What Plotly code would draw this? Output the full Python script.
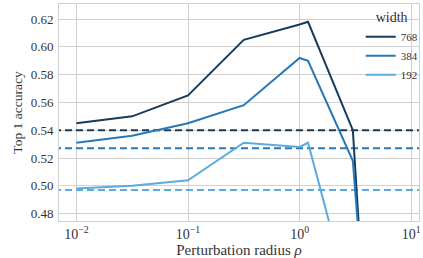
import plotly.graph_objects as go

radius = [0.01, 0.0316, 0.1, 0.316, 1.0, 1.19, 3.0, 4.0]
acc_768 = [0.545, 0.550, 0.565, 0.605, 0.616, 0.618, 0.540, 0.38]
acc_384 = [0.531, 0.536, 0.545, 0.558, 0.592, 0.590, 0.518, 0.39]
acc_192 = [0.498, 0.500, 0.504, 0.531, 0.528, 0.531, 0.41, 0.39]
baseline = {"768": 0.540, "384": 0.527, "192": 0.497}
widths = ["768", "384", "192"]
colors = {"768": "#173b5a", "384": "#2678b6", "192": "#5aabe0"}
series = {"768": acc_768, "384": acc_384, "192": acc_192}

font = "Liberation Serif"
fig = go.Figure()
for w in widths:
    fig.add_trace(go.Scatter(x=[0.004, 20], y=[baseline[w]] * 2, mode="lines",
                             line=dict(color=colors[w], width=2, dash="7px,4px"),
                             showlegend=False, hoverinfo="skip"))
for w in widths:
    fig.add_trace(go.Scatter(x=radius, y=series[w], mode="lines", name=w,
                             line=dict(color=colors[w], width=2)))

fig.update_layout(
    width=423, height=258,
    margin=dict(l=59, r=4, t=4, b=37, autoexpand=False),
    paper_bgcolor="white", plot_bgcolor="white",
    font=dict(family=font, size=12, color="#333"),
    legend=dict(title=dict(text="width", font=dict(size=14), side="top center"),
                x=0.838, xanchor="left", y=1.0, yanchor="top",
                bgcolor="rgba(0,0,0,0)", font=dict(size=11),
                itemwidth=30, tracegroupgap=0),
)
fig.update_xaxes(type="log", range=[-2.156, 1.07],
                 tickvals=[0.01, 0.1, 1, 10],
                 ticktext=["10<sup>−2</sup>", "10<sup>−1</sup>", "10<sup>0</sup>", "10<sup>1</sup>"],
                 showgrid=True, gridcolor="#d0d0d0", gridwidth=1,
                 showline=True, linecolor="#d0d0d0", mirror=True, zeroline=False,
                 title=dict(text="Perturbation radius <i>ρ</i>", font=dict(size=15), standoff=2),
                 ticks="", tickfont=dict(size=14), automargin=False)
fig.update_yaxes(range=[0.4747, 0.6308], tickvals=[0.48, 0.50, 0.52, 0.54, 0.56, 0.58, 0.60, 0.62],
                 tickformat=".2f",
                 showgrid=True, gridcolor="#d0d0d0", gridwidth=1,
                 showline=True, linecolor="#d0d0d0", mirror=True, zeroline=False,
                 title=dict(text="Top 1 accuracy", font=dict(size=13.5), standoff=4),
                 ticks="", tickfont=dict(size=13), ticklabelstandoff=2, automargin=False)

fig.write_html("out.html", config={"displayModeBar": False},
               post_script="document.body.style.margin='0';")
